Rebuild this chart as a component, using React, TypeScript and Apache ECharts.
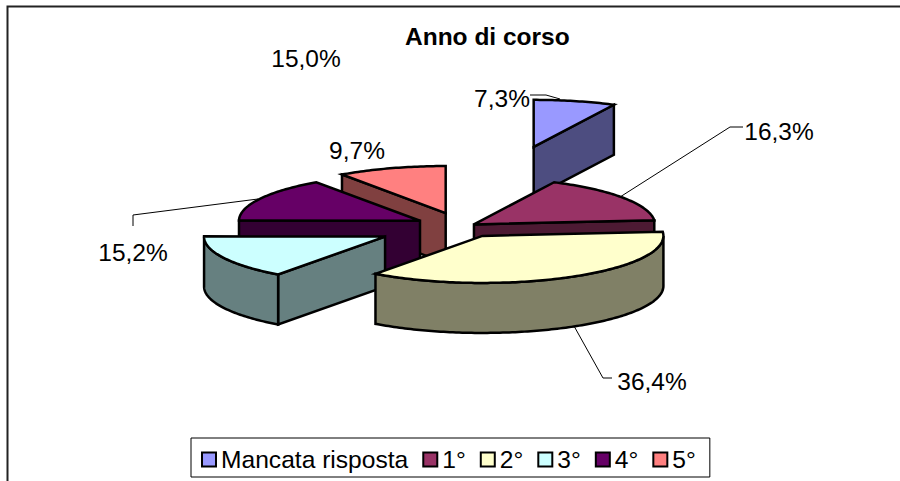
import React, { useEffect, useRef } from "react";
import * as echarts from "echarts";

const categories = ["Mancata risposta", "1°", "2°", "3°", "4°", "5°"];
const shares = [7.3, 16.3, 36.4, 15.0, 15.2, 9.7];
const explode = [1.74, 0.08, 0.23, 0.476, 0.262, 0.3];
const topColors = ["#9999FF", "#993366", "#FFFFCC", "#CCFFFF", "#660066", "#FF8080"];
const sideColors = ["#4D4D80", "#4D1A33", "#808066", "#668080", "#330033", "#804040"];
const paintOrder = [0, 3, 5, 4, 2, 1]; // z per slice, back to front
const labelAnchors: [number, number][] = [
  [502, 98], [779, 131], [652, 381], [306, 58], [133, 252], [357, 150],
];
const leaders: [number, number][][] = [
  [[530, 95], [546, 95], [560, 99]],
  [[743, 127], [730, 127], [620, 197]],
  [[612, 378], [603, 378], [574, 326]],
  [],
  [[133, 226], [133, 215], [258, 199]],
  [],
];

const FONT = '"Liberation Sans", Arial, sans-serif';
const CX = 462;
const CY = 226.5;
const RX = 181;
const RY = 47;
const DEPTH = 50;
const total = shares.reduce((a, b) => a + b, 0);
const rad = (d: number) => (d * Math.PI) / 180;
const startAngles = shares.map((_, i) => (shares.slice(0, i).reduce((a, b) => a + b, 0) / total) * 360);

function sliceChildren(i: number, value: number) {
  const a0 = startAngles[i];
  const a1 = a0 + (value / total) * 360;
  const mid = (a0 + a1) / 2;
  const ax = CX + explode[i] * RX * Math.sin(rad(mid));
  const ay = CY - explode[i] * RY * Math.cos(rad(mid));
  const pt = (d: number): [number, number] => [ax + RX * Math.sin(rad(d)), ay - RY * Math.cos(rad(d))];
  const arc = (from: number, to: number) => {
    const out: [number, number][] = [];
    const n = Math.max(2, Math.ceil(to - from));
    for (let k = 0; k <= n; k++) out.push(pt(from + ((to - from) * k) / n));
    return out;
  };
  const down = (p: [number, number]): [number, number] => [p[0], p[1] + DEPTH];
  const face = (points: [number, number][], fill: string) => ({
    type: "polygon",
    shape: { points },
    style: { fill, stroke: "#000", lineWidth: 2.5, lineJoin: "miter" },
  });
  const kids: any[] = [];
  if (leaders[i].length) {
    kids.push({
      type: "polyline",
      shape: { points: leaders[i] },
      style: { fill: "none", stroke: "#000", lineWidth: 1 },
    });
  }
  const side = sideColors[i];
  const apex: [number, number] = [ax, ay];
  if (Math.sin(rad(a0)) < -1e-6) {
    kids.push(face([apex, pt(a0), down(pt(a0)), down(apex)], side));
  }
  if (Math.sin(rad(a1)) > 1e-6) {
    kids.push(face([apex, pt(a1), down(pt(a1)), down(apex)], side));
  }
  const wf = Math.max(a0, 90);
  const wt = Math.min(a1, 270);
  if (wt > wf) {
    const top = arc(wf, wt);
    kids.push(face([...top, ...top.slice().reverse().map(down)], side));
  }
  kids.push(face([apex, ...arc(a0, a1)], topColors[i]));
  kids.push({
    type: "text",
    x: labelAnchors[i][0],
    y: labelAnchors[i][1],
    style: {
      text: value.toFixed(1).replace(".", ",") + "%",
      font: `24.5px ${FONT}`,
      fill: "#000",
      align: "center",
      verticalAlign: "middle",
    },
  });
  return kids;
}

export default function App() {
  const ref = useRef<HTMLDivElement>(null);
  useEffect(() => {
    const chart = echarts.init(ref.current!, null, { renderer: "svg" });
    chart.setOption({
      animation: false,
      backgroundColor: "#fff",
      title: {
        text: "Anno di corso",
        left: 405,
        top: 24,
        padding: 0,
        textStyle: { fontFamily: FONT, fontWeight: "bold", fontSize: 24.5, color: "#000" },
      },
      legend: {
        left: 191,
        top: 438,
        orient: "horizontal",
        data: categories,
        icon: "rect",
        itemWidth: 14,
        itemHeight: 14,
        itemGap: 14,
        padding: [9, 14, 5, 10],
        borderColor: "#000",
        borderWidth: 1,
        backgroundColor: "#fff",
        itemStyle: { borderColor: "#000", borderWidth: 2 },
        textStyle: { fontFamily: FONT, fontSize: 24.6, color: "#000" },
        selectedMode: false,
      },
      graphic: [
        {
          type: "polyline",
          z: -1,
          shape: { points: [[7.5, 481], [7.5, 6.5], [900, 6.5]] },
          style: { fill: "none", stroke: "#222", lineWidth: 2 },
        },
      ],
      series: categories.map((name, i) => ({
        type: "custom",
        name,
        coordinateSystem: "none",
        z: 2 + paintOrder[i],
        silent: true,
        itemStyle: { color: topColors[i] },
        data: [[shares[i]]],
        renderItem: (_p: any, api: any) => ({
          type: "group",
          children: sliceChildren(i, api.value(0)),
        }),
      })),
    });
    return () => chart.dispose();
  }, []);
  return <div ref={ref} style={{ position: "absolute", left: 0, top: 0, width: 900, height: 481 }} />;
}
